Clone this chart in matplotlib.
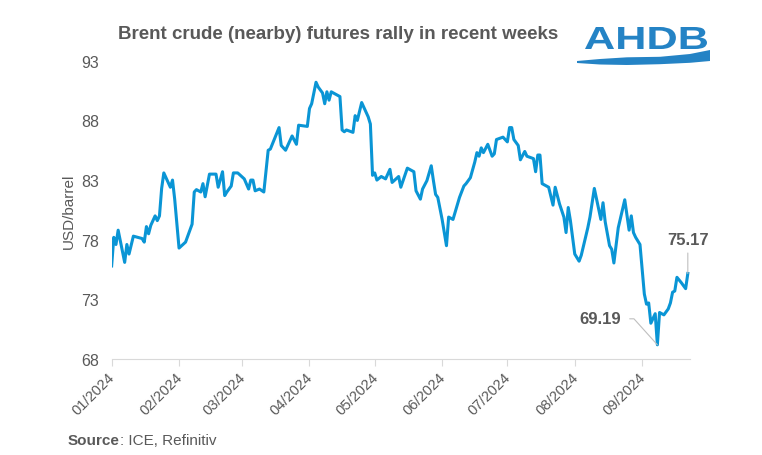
import numpy as np
import pandas as pd

import matplotlib as mpl
mpl.use('Agg')
import matplotlib.pyplot as plt
import matplotlib.dates as mdates
from matplotlib.textpath import TextPath
from matplotlib.patches import PathPatch, Polygon
from matplotlib.font_manager import FontProperties
from matplotlib.transforms import Affine2D, ScaledTranslation

plt.rcParams['font.family'] = ['Liberation Sans', 'DejaVu Sans']

# Brent nearby futures, USD/barrel
dates = [
    '2024-01-01', '2024-01-02', '2024-01-03', '2024-01-04', '2024-01-07', '2024-01-08',
    '2024-01-09', '2024-01-11', '2024-01-15', '2024-01-16', '2024-01-17', '2024-01-18',
    '2024-01-19', '2024-01-21', '2024-01-22', '2024-01-23', '2024-01-24', '2024-01-25',
    '2024-01-28', '2024-01-29', '2024-01-30',
    '2024-02-01', '2024-02-04', '2024-02-05', '2024-02-07', '2024-02-08', '2024-02-09',
    '2024-02-11', '2024-02-12', '2024-02-13', '2024-02-15', '2024-02-18', '2024-02-19',
    '2024-02-21', '2024-02-22', '2024-02-23', '2024-02-25', '2024-02-26', '2024-02-28',
    '2024-03-02', '2024-03-04', '2024-03-05', '2024-03-06', '2024-03-07', '2024-03-09',
    '2024-03-11', '2024-03-13', '2024-03-14', '2024-03-18', '2024-03-19', '2024-03-21',
    '2024-03-24', '2024-03-26', '2024-03-27', '2024-03-31',
    '2024-04-01', '2024-04-02', '2024-04-04', '2024-04-05', '2024-04-07', '2024-04-08',
    '2024-04-09', '2024-04-10', '2024-04-11', '2024-04-15', '2024-04-16', '2024-04-17',
    '2024-04-18', '2024-04-21', '2024-04-22', '2024-04-23', '2024-04-25', '2024-04-28',
    '2024-04-29', '2024-04-30',
    '2024-05-01', '2024-05-02', '2024-05-04', '2024-05-06', '2024-05-08', '2024-05-09',
    '2024-05-12', '2024-05-13', '2024-05-16', '2024-05-19', '2024-05-20', '2024-05-22',
    '2024-05-23', '2024-05-25', '2024-05-27', '2024-05-28', '2024-05-29', '2024-05-30',
    '2024-06-01', '2024-06-03', '2024-06-04', '2024-06-06', '2024-06-09', '2024-06-11',
    '2024-06-12', '2024-06-14', '2024-06-16', '2024-06-17', '2024-06-18', '2024-06-19',
    '2024-06-20', '2024-06-22', '2024-06-24', '2024-06-25', '2024-06-26', '2024-06-29',
    '2024-07-01', '2024-07-02', '2024-07-03', '2024-07-04', '2024-07-06', '2024-07-07',
    '2024-07-09', '2024-07-10', '2024-07-13', '2024-07-14', '2024-07-15', '2024-07-16',
    '2024-07-17', '2024-07-20', '2024-07-22', '2024-07-23', '2024-07-25', '2024-07-27',
    '2024-07-28', '2024-07-29', '2024-07-30',
    '2024-08-01', '2024-08-03', '2024-08-04', '2024-08-07', '2024-08-08', '2024-08-10',
    '2024-08-13', '2024-08-14', '2024-08-15', '2024-08-17', '2024-08-18', '2024-08-19',
    '2024-08-21', '2024-08-24', '2024-08-26', '2024-08-27', '2024-08-28', '2024-08-29',
    '2024-08-31',
    '2024-09-02', '2024-09-03', '2024-09-04', '2024-09-05', '2024-09-06', '2024-09-07',
    '2024-09-08', '2024-09-09', '2024-09-11', '2024-09-13', '2024-09-14', '2024-09-15',
    '2024-09-16', '2024-09-17', '2024-09-19', '2024-09-21', '2024-09-22',
]
prices = [
    75.8, 78.2, 77.6, 78.8, 76.1, 77.6,
    76.8, 78.3, 78.1, 77.8, 79.1, 78.5,
    79.2, 80.0, 79.6, 80.0, 82.3, 83.6,
    82.4, 83.0, 81.4,
    77.3, 77.8, 78.3, 79.3, 82.0, 82.2,
    82.0, 82.7, 81.6, 83.5, 83.5, 82.4,
    83.7, 81.7, 82.0, 82.5, 83.6, 83.6,
    83.1, 82.25, 83.0, 83.0, 82.1, 82.25,
    82.0, 85.5, 85.6, 87.4, 85.9, 85.5,
    86.7, 86.0, 87.6, 87.5,
    89.0, 89.4, 91.2, 90.8, 90.3, 89.4,
    90.4, 89.7, 90.4, 90.0, 87.2, 87.05,
    87.2, 87.0, 88.4, 88.0, 89.5, 88.3,
    87.7, 83.4,
    83.6, 83.0, 83.3, 83.1, 83.9, 82.8,
    83.3, 82.4, 84.0, 83.7, 82.1, 81.4,
    82.25, 82.95, 84.2, 82.95, 81.8, 81.55,
    79.7, 77.5, 79.9, 79.7, 81.55, 82.5,
    82.7, 83.2, 84.5, 85.3, 85.0, 85.7,
    85.3, 86.0, 85.0, 85.2, 86.4, 86.6,
    86.2, 87.4, 87.4, 86.4, 85.9, 84.7,
    85.4, 85.0, 84.8, 83.7, 85.1, 85.1,
    82.7, 82.4, 80.9, 82.4, 81.0, 79.9,
    78.6, 80.7, 79.6,
    76.8, 76.2, 76.7, 79.0, 79.9, 82.3,
    79.7, 81.1, 79.5, 77.5, 77.2, 76.05,
    79.0, 81.35, 78.8, 80.0, 78.6, 78.2,
    77.6,
    73.45, 72.6, 72.7, 71.0, 71.4, 71.8,
    69.19, 71.9, 71.7, 72.2, 72.7, 73.6,
    73.7, 74.85, 74.4, 73.9, 75.17,
]

months = ['2024-%02d-01' % m for m in range(1, 10)]
title = "Brent crude (nearby) futures rally in recent weeks"

grey = '#595959'
blue = '#0a95d5'
logo_blue = '#2483c5'

x = pd.to_datetime(dates)

fig = plt.figure(figsize=(7.62, 4.56), dpi=100)
ax = fig.add_axes([0.1465, 0.2105, 0.759, 0.654])

ax.plot(x, prices, color=blue, lw=2.2, solid_joinstyle='round')

ax.set_xlim(pd.Timestamp('2024-01-01'), pd.Timestamp('2024-09-23'))
ax.set_ylim(68, 93)
ax.set_yticks([68, 73, 78, 83, 88, 93])
ax.set_xticks(pd.to_datetime(months))
ax.xaxis.set_major_formatter(mdates.DateFormatter('%m/%Y'))

for side in ['top', 'right', 'left']:
    ax.spines[side].set_visible(False)
ax.spines['bottom'].set_color('#d9d9d9')
ax.tick_params(axis='y', length=0, pad=9, labelsize=11.5, labelcolor=grey)
ax.tick_params(axis='x', length=5, color='#d9d9d9', pad=3, labelsize=10.5, labelcolor=grey)
shift = ScaledTranslation(-0.04, 0, fig.dpi_scale_trans)
for lab in ax.get_xticklabels():
    lab.set_rotation(45)
    lab.set_ha('right')
    lab.set_va('top')
    lab.set_rotation_mode('anchor')
    lab.set_transform(lab.get_transform() + shift)

ax.set_ylabel('USD/barrel', color=grey, fontsize=11, labelpad=4)

# end-point labels
line_kw = dict(arrowstyle='-', color='#bfbfbf', lw=0.8, shrinkA=2, shrinkB=0)
ax.annotate('%.2f' % prices[-1], xy=(x[-1], prices[-1]), xytext=(0, 26),
            textcoords='offset pixels', ha='center', va='bottom',
            fontsize=12, fontweight='bold', color=grey, arrowprops=line_kw)
imin = int(np.argmin(prices))
ax.annotate('%.2f' % prices[imin], xy=(x[imin], prices[imin]), xytext=(-36, 26),
            textcoords='offset pixels', ha='right', va='center',
            fontsize=12, fontweight='bold', color=grey,
            arrowprops=dict(line_kw, relpos=(1, 0.5), shrinkA=4,
                            connectionstyle='angle,angleA=0,angleB=132,rad=0'))

fig.text(0.155, 0.925, title, ha='left', va='center', fontsize=13.5,
         fontweight='bold', color=grey)

src = fig.text(0.089, 0.033, 'Source', ha='left', va='center', fontsize=11,
               fontweight='bold', color=grey)
ax.annotate(': ICE, Refinitiv', xy=(1, 0), xycoords=src, ha='left', va='bottom',
            fontsize=11, color=grey, annotation_clip=False)

# AHDB logo, drawn in pixel coordinates of the 762x456 canvas
W, H = 762., 456.
tp = TextPath((0, 0), 'AHDB', size=1, prop=FontProperties(family='Liberation Sans', weight='bold'))
ext = tp.get_extents()
x0, x1, ytop, ybot = 585., 707., 28., 50.
tr = (Affine2D().translate(-ext.x0, -ext.y0)
      .scale((x1 - x0) / ext.width / W, (ybot - ytop) / ext.height / H)
      .translate(x0 / W, 1 - ybot / H))
fig.add_artist(PathPatch(tr.transform_path(tp), facecolor=logo_blue, edgecolor='none',
                         transform=fig.transFigure))
wx = np.linspace(577, 710, 60)
top = np.interp(wx, [577, 600, 627, 660, 690, 710], [62.0, 60.0, 58.3, 57.8, 55.0, 51.0])
bot = np.interp(wx, [577, 600, 627, 660, 690, 710], [64.0, 65.5, 66.0, 65.2, 63.8, 62.0])
pts = np.column_stack([np.r_[wx, wx[::-1]] / W, 1 - np.r_[top, bot[::-1]] / H])
fig.add_artist(Polygon(pts, closed=True, facecolor=logo_blue, edgecolor='none',
                       transform=fig.transFigure))

fig.savefig('out.png', dpi=100)
